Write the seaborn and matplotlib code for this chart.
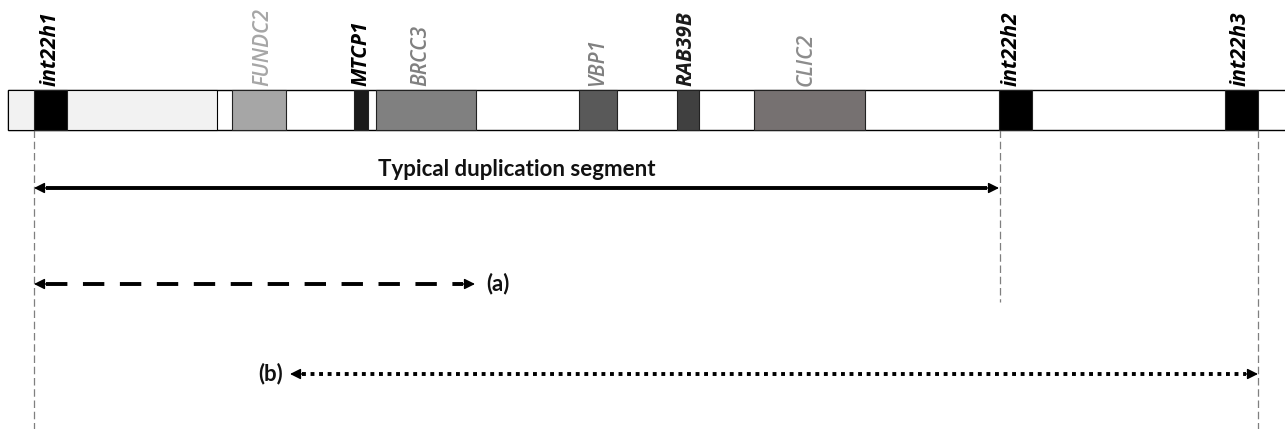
import matplotlib
matplotlib.use("Agg")
import matplotlib.pyplot as plt
import seaborn as sns

# ------------------------------
# Data (positions along the Xq28 map, arbitrary units)
# ------------------------------
map_start = 8
map_end = 1285
shaded_start = 8
shaded_end = 217

gene_names = ["int22h1", "FUNDC2", "MTCP1", "BRCC3", "VBP1", "RAB39B", "CLIC2", "int22h2", "int22h3"]
gene_start = [34, 232, 354, 376, 579, 677, 754, 999, 1225]
gene_end = [67, 286, 368, 476, 617, 699, 865, 1032, 1258]
gene_fill = ["#000000", "#a6a6a6", "#1a1a1a", "#808080", "#595959", "#404040", "#767171", "#000000", "#000000"]
label_color = ["#000000", "#a6a6a6", "#000000", "#808080", "#808080", "#1a1a1a", "#8c8c8c", "#000000", "#000000"]
label_bold = [True, False, True, False, False, True, False, True, True]
label_x = [50, 263, 361, 421, 598, 686, 806, 1011, 1240]

guide_x = [34, 1000, 1258]
guide_end = [429, 302, 429]

dup_span = (34, 999)
a_span = (34, 475)
b_span = (290, 1258)

# ------------------------------
# Figure
# ------------------------------
sns.set_theme(style="white")
plt.rcParams['font.family'] = ['Open Sans', 'DejaVu Sans']

fig = plt.figure(figsize=(12.85, 4.29), dpi=100)
ax = fig.add_axes([0, 0, 1, 1])
ax.set_xlim(0, 1285)
ax.set_ylim(429, 0)
ax.axis("off")

bar_top, bar_h = 90, 40

# backbone + shaded part
ax.barh(bar_top + bar_h / 2, map_end - map_start + 5, left=map_start, height=bar_h,
        color="white", edgecolor="black", linewidth=1.0, zorder=1)
ax.barh(bar_top + bar_h / 2, shaded_end - shaded_start, left=shaded_start, height=bar_h,
        color="#f2f2f2", edgecolor="black", linewidth=0.8, zorder=2)

# gene boxes
widths = [e - s for s, e in zip(gene_start, gene_end)]
ax.barh([bar_top + bar_h / 2] * len(gene_names), widths, left=gene_start, height=bar_h,
        color=gene_fill, edgecolor="#222222", linewidth=0.8, zorder=3)

for name, x, c, b in zip(gene_names, label_x, label_color, label_bold):
    ax.text(x, bar_top - 4, name, rotation=90, ha="center", va="bottom",
            fontsize=15, fontstyle="italic", fontweight="bold" if b else 600,
            color=c, zorder=4)

# dashed guides
for x, y1 in zip(guide_x, guide_end):
    ax.plot([x, x], [bar_top + bar_h, y1], color="#7f7f7f", lw=0.9,
            dashes=(6, 3), zorder=1)


def double_arrow(x0, x1, y, dashes=None, head=12):
    kw = dict(color="black", lw=2.8, solid_capstyle="butt", zorder=5)
    if dashes is not None:
        kw["dashes"] = dashes
    ax.plot([x0 + head, x1 - head], [y, y], **kw)
    for tip, tail in ((x0, x0 + head + 1), (x1, x1 - head - 1)):
        ax.annotate("", xy=(tip, y), xytext=(tail, y),
                    arrowprops=dict(arrowstyle="-|>", color="black", lw=1.0,
                                    mutation_scale=16, shrinkA=0, shrinkB=0),
                    zorder=6)


lab_font = ["Lato", "DejaVu Sans"]

double_arrow(dup_span[0], dup_span[1], 188)
ax.text((dup_span[0] + dup_span[1]) / 2, 180, "Typical duplication segment",
        ha="center", va="bottom", fontsize=16, fontweight="bold",
        family=lab_font, color="#111111")

double_arrow(a_span[0], a_span[1], 284, dashes=(5.5, 4))
ax.text(a_span[1] + 11, 284, "(a)", ha="left", va="center", fontsize=16,
        fontweight="bold", family=lab_font, color="#111111")

double_arrow(b_span[0], b_span[1], 374, dashes=(1, 1.2))
ax.text(b_span[0] - 7, 374, "(b)", ha="right", va="center", fontsize=16,
        fontweight="bold", family=lab_font, color="#111111")

fig.savefig("out.png", dpi=100, facecolor="white")
